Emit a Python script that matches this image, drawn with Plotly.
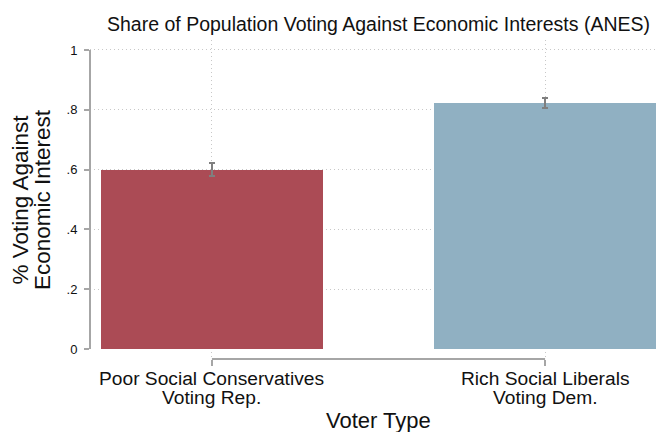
import plotly.graph_objects as go

# Share voting against economic interest, by voter type (ANES)
categories = ["Poor Social Conservatives|Voting Rep.", "Rich Social Liberals|Voting Dem."]
shares = [0.600, 0.822]
ci_half = [0.021, 0.017]
bar_colors = ["#AB4B55", "#90B0C2"]
y_ticks = [0, 0.2, 0.4, 0.6, 0.8, 1.0]
y_tick_text = ["0", ".2", ".4", ".6", ".8", "1"]

FONT = "Liberation Sans, Arial, sans-serif"
AXIS_GRAY = "#a6a6a6"
GRID_GRAY = "#c8c8c8"
GRID_DASH = "1px,3px"

xpos = list(range(len(categories)))

fig = go.Figure()
fig.add_trace(go.Bar(
    x=xpos,
    y=shares,
    width=0.667,
    marker=dict(color=bar_colors, line=dict(width=0)),
    error_y=dict(type="data", array=ci_half, visible=True,
                 color="#7f7f7f", thickness=1.8, width=3),
    showlegend=False,
))

# axis lines spanning only the tick range
fig.add_shape(type="line", xref="x", yref="paper", x0=xpos[0], x1=xpos[-1], y0=0, y1=0,
              line=dict(color=AXIS_GRAY, width=2))
fig.add_shape(type="line", xref="paper", yref="y", x0=0, x1=0, y0=y_ticks[0], y1=y_ticks[-1],
              line=dict(color=AXIS_GRAY, width=2))

# two-line category labels
for i, cat in enumerate(categories):
    line1, line2 = cat.split("|")
    fig.add_annotation(x=i, xref="x", y=-0.0334, yref="y", text=line1, showarrow=False,
                       xanchor="center", yanchor="top", yshift=-7,
                       font=dict(family=FONT, size=19.2, color="#111"))
    fig.add_annotation(x=i, xref="x", y=-0.0334, yref="y", text=line2, showarrow=False,
                       xanchor="center", yanchor="top", yshift=-26,
                       font=dict(family=FONT, size=19.2, color="#111"))

# titles
fig.add_annotation(x=0.5, xref="x", y=1.05, yref="paper",
                   text="Share of Population Voting Against Economic Interests (ANES)",
                   showarrow=False, xanchor="center", yanchor="middle",
                   font=dict(family=FONT, size=19.5, color="#111"))
fig.add_annotation(x=0.5, xref="x", y=-0.192, yref="paper", text="Voter Type",
                   showarrow=False, xanchor="center", yanchor="middle",
                   font=dict(family=FONT, size=22, color="#111"))
fig.add_annotation(x=-0.122, xref="paper", y=0.5, yref="y", text="% Voting Against",
                   textangle=-90, showarrow=False, xanchor="center", yanchor="middle",
                   font=dict(family=FONT, size=22.5, color="#111"))
fig.add_annotation(x=-0.084, xref="paper", y=0.5, yref="y", text="Economic Interest",
                   textangle=-90, showarrow=False, xanchor="center", yanchor="middle",
                   font=dict(family=FONT, size=22.5, color="#111"))

fig.update_layout(
    width=656, height=432,
    margin=dict(l=90, r=0, t=40, b=73),
    paper_bgcolor="white", plot_bgcolor="white",
    bargap=0,
    xaxis=dict(range=[-0.366, 1.333], tickvals=xpos, showticklabels=False,
               showgrid=True, gridcolor=GRID_GRAY, griddash=GRID_DASH, gridwidth=1,
               zeroline=False, showline=False,
               ticks="outside", ticklen=6, tickcolor=AXIS_GRAY, tickwidth=1.5),
    yaxis=dict(range=[-0.0334, 1.0334], tickvals=y_ticks, ticktext=y_tick_text,
               showgrid=True, gridcolor=GRID_GRAY, griddash=GRID_DASH, gridwidth=1,
               zeroline=True, zerolinecolor="rgba(0,0,0,0)",
               showline=False, ticks="outside", ticklen=5, tickcolor=AXIS_GRAY,
               tickwidth=1.5, ticklabelstandoff=4,
               tickfont=dict(family=FONT, size=13, color="#111")),
)

fig.write_html("out.html")
